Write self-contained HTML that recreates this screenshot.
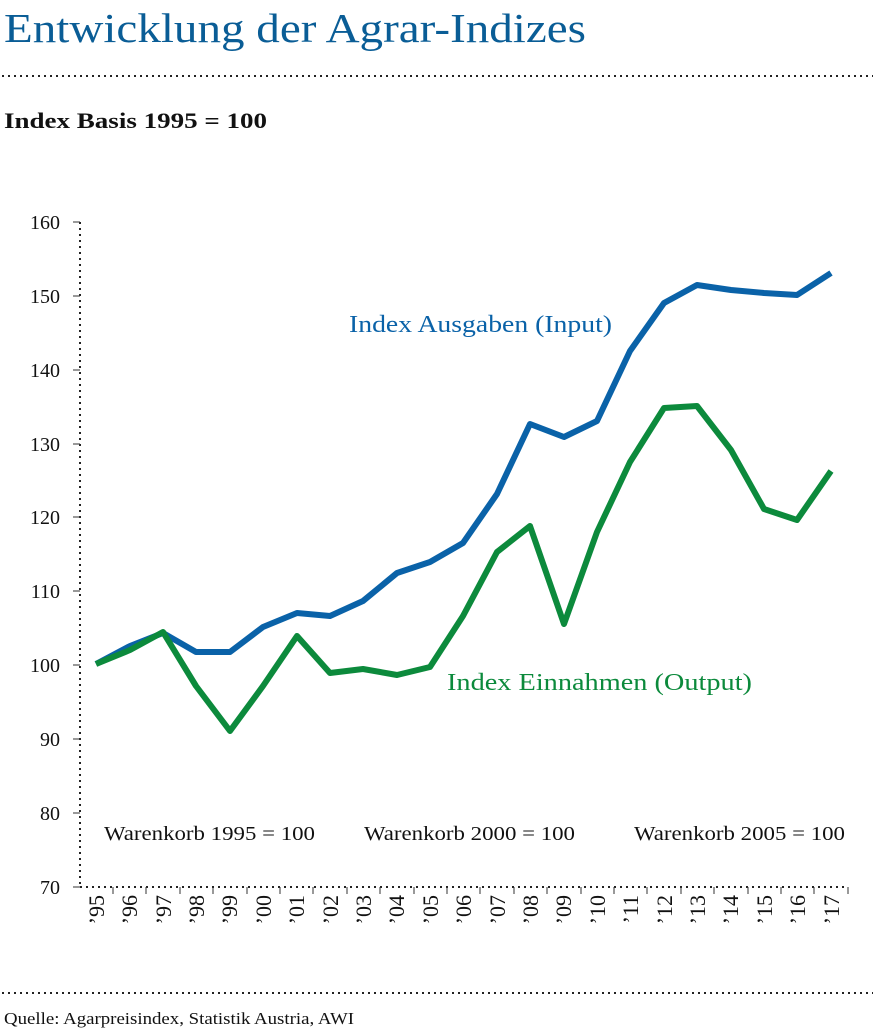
<!DOCTYPE html>
<html><head><meta charset="utf-8"><style>body{margin:0;background:#fff}svg{display:block}text{font-family:"Liberation Serif",serif}</style></head>
<body>
<svg width="875" height="1033" viewBox="0 0 875 1033" xmlns="http://www.w3.org/2000/svg">
<text x="4" y="42" font-size="41" fill="#0a5d96" textLength="582" lengthAdjust="spacingAndGlyphs">Entwicklung der Agrar-Indizes</text>
<line x1="2" y1="76" x2="873" y2="76" stroke="#222" stroke-width="2" stroke-dasharray="2,4"/>
<text x="4" y="128" font-size="22" font-weight="bold" fill="#111" textLength="263" lengthAdjust="spacingAndGlyphs">Index Basis 1995 = 100</text>
<line x1="80" y1="222" x2="80" y2="887" stroke="#222" stroke-width="2" stroke-dasharray="2,4"/>
<line x1="80" y1="887" x2="848" y2="887" stroke="#222" stroke-width="2" stroke-dasharray="2,4"/>
<g stroke="#333" stroke-width="1">
<line x1="73" y1="222" x2="80" y2="222"/><line x1="73" y1="296" x2="80" y2="296"/><line x1="73" y1="370" x2="80" y2="370"/><line x1="73" y1="444" x2="80" y2="444"/><line x1="73" y1="517" x2="80" y2="517"/><line x1="73" y1="591" x2="80" y2="591"/><line x1="73" y1="665" x2="80" y2="665"/><line x1="73" y1="739" x2="80" y2="739"/><line x1="73" y1="813" x2="80" y2="813"/><line x1="73" y1="887" x2="80" y2="887"/>
</g>
<g font-size="20" fill="#111" text-anchor="end">
<text x="60" y="229">160</text><text x="60" y="303">150</text><text x="60" y="377">140</text><text x="60" y="451">130</text><text x="60" y="524">120</text><text x="60" y="598">110</text><text x="60" y="672">100</text><text x="60" y="746">90</text><text x="60" y="820">80</text><text x="60" y="894">70</text>
</g>
<g stroke="#333" stroke-width="1">
<line x1="113" y1="887" x2="113" y2="894"/><line x1="146" y1="887" x2="146" y2="894"/><line x1="180" y1="887" x2="180" y2="894"/><line x1="213" y1="887" x2="213" y2="894"/><line x1="247" y1="887" x2="247" y2="894"/><line x1="280" y1="887" x2="280" y2="894"/><line x1="313" y1="887" x2="313" y2="894"/><line x1="347" y1="887" x2="347" y2="894"/><line x1="380" y1="887" x2="380" y2="894"/><line x1="414" y1="887" x2="414" y2="894"/><line x1="447" y1="887" x2="447" y2="894"/><line x1="480" y1="887" x2="480" y2="894"/><line x1="514" y1="887" x2="514" y2="894"/><line x1="547" y1="887" x2="547" y2="894"/><line x1="581" y1="887" x2="581" y2="894"/><line x1="614" y1="887" x2="614" y2="894"/><line x1="647" y1="887" x2="647" y2="894"/><line x1="681" y1="887" x2="681" y2="894"/><line x1="714" y1="887" x2="714" y2="894"/><line x1="748" y1="887" x2="748" y2="894"/><line x1="781" y1="887" x2="781" y2="894"/><line x1="814" y1="887" x2="814" y2="894"/><line x1="848" y1="887" x2="848" y2="894"/>
</g>
<g font-size="22" fill="#111" text-anchor="end">
<text transform="translate(104,895) rotate(-90)">’95</text>
<text transform="translate(137,895) rotate(-90)">’96</text>
<text transform="translate(171,895) rotate(-90)">’97</text>
<text transform="translate(204,895) rotate(-90)">’98</text>
<text transform="translate(237,895) rotate(-90)">’99</text>
<text transform="translate(271,895) rotate(-90)">’00</text>
<text transform="translate(304,895) rotate(-90)">’01</text>
<text transform="translate(338,895) rotate(-90)">’02</text>
<text transform="translate(371,895) rotate(-90)">’03</text>
<text transform="translate(404,895) rotate(-90)">’04</text>
<text transform="translate(438,895) rotate(-90)">’05</text>
<text transform="translate(471,895) rotate(-90)">’06</text>
<text transform="translate(505,895) rotate(-90)">’07</text>
<text transform="translate(538,895) rotate(-90)">’08</text>
<text transform="translate(571,895) rotate(-90)">’09</text>
<text transform="translate(605,895) rotate(-90)">’10</text>
<text transform="translate(638,895) rotate(-90)">’11</text>
<text transform="translate(672,895) rotate(-90)">’12</text>
<text transform="translate(705,895) rotate(-90)">’13</text>
<text transform="translate(738,895) rotate(-90)">’14</text>
<text transform="translate(772,895) rotate(-90)">’15</text>
<text transform="translate(805,895) rotate(-90)">’16</text>
<text transform="translate(839,895) rotate(-90)">’17</text>
</g>
<polyline fill="none" stroke="#0a62a8" stroke-width="6" stroke-linejoin="round" points="96,664 130,646 163,633 196,652 230,652 263,627 297,613 330,616 363,601 397,573 430,562 463,543 497,494 530,424 564,437 597,421 630,351 664,303 697,285 731,290 764,293 797,295 831,273"/>
<polyline fill="none" stroke="#0c8a3c" stroke-width="6" stroke-linejoin="round" points="96,664 130,650 163,632 196,686 230,731 263,686 297,636 330,673 363,669 397,675 430,667 463,616 497,552 530,526 564,624 597,532 630,462 664,408 697,406 731,450 764,509 797,520 831,471"/>
<text x="349" y="332" font-size="24" fill="#0a62a8" textLength="263" lengthAdjust="spacingAndGlyphs">Index Ausgaben (Input)</text>
<text x="447" y="690" font-size="24" fill="#0c8a3c" textLength="305" lengthAdjust="spacingAndGlyphs">Index Einnahmen (Output)</text>
<g font-size="20" fill="#111">
<text x="104" y="840" textLength="211" lengthAdjust="spacingAndGlyphs">Warenkorb 1995 = 100</text>
<text x="364" y="840" textLength="211" lengthAdjust="spacingAndGlyphs">Warenkorb 2000 = 100</text>
<text x="634" y="840" textLength="211" lengthAdjust="spacingAndGlyphs">Warenkorb 2005 = 100</text>
</g>
<line x1="2" y1="993" x2="873" y2="993" stroke="#222" stroke-width="2" stroke-dasharray="2,4"/>
<text x="4" y="1024" font-size="17" fill="#111" textLength="350" lengthAdjust="spacingAndGlyphs">Quelle: Agarpreisindex, Statistik Austria, AWI</text>
</svg>
</body></html>
